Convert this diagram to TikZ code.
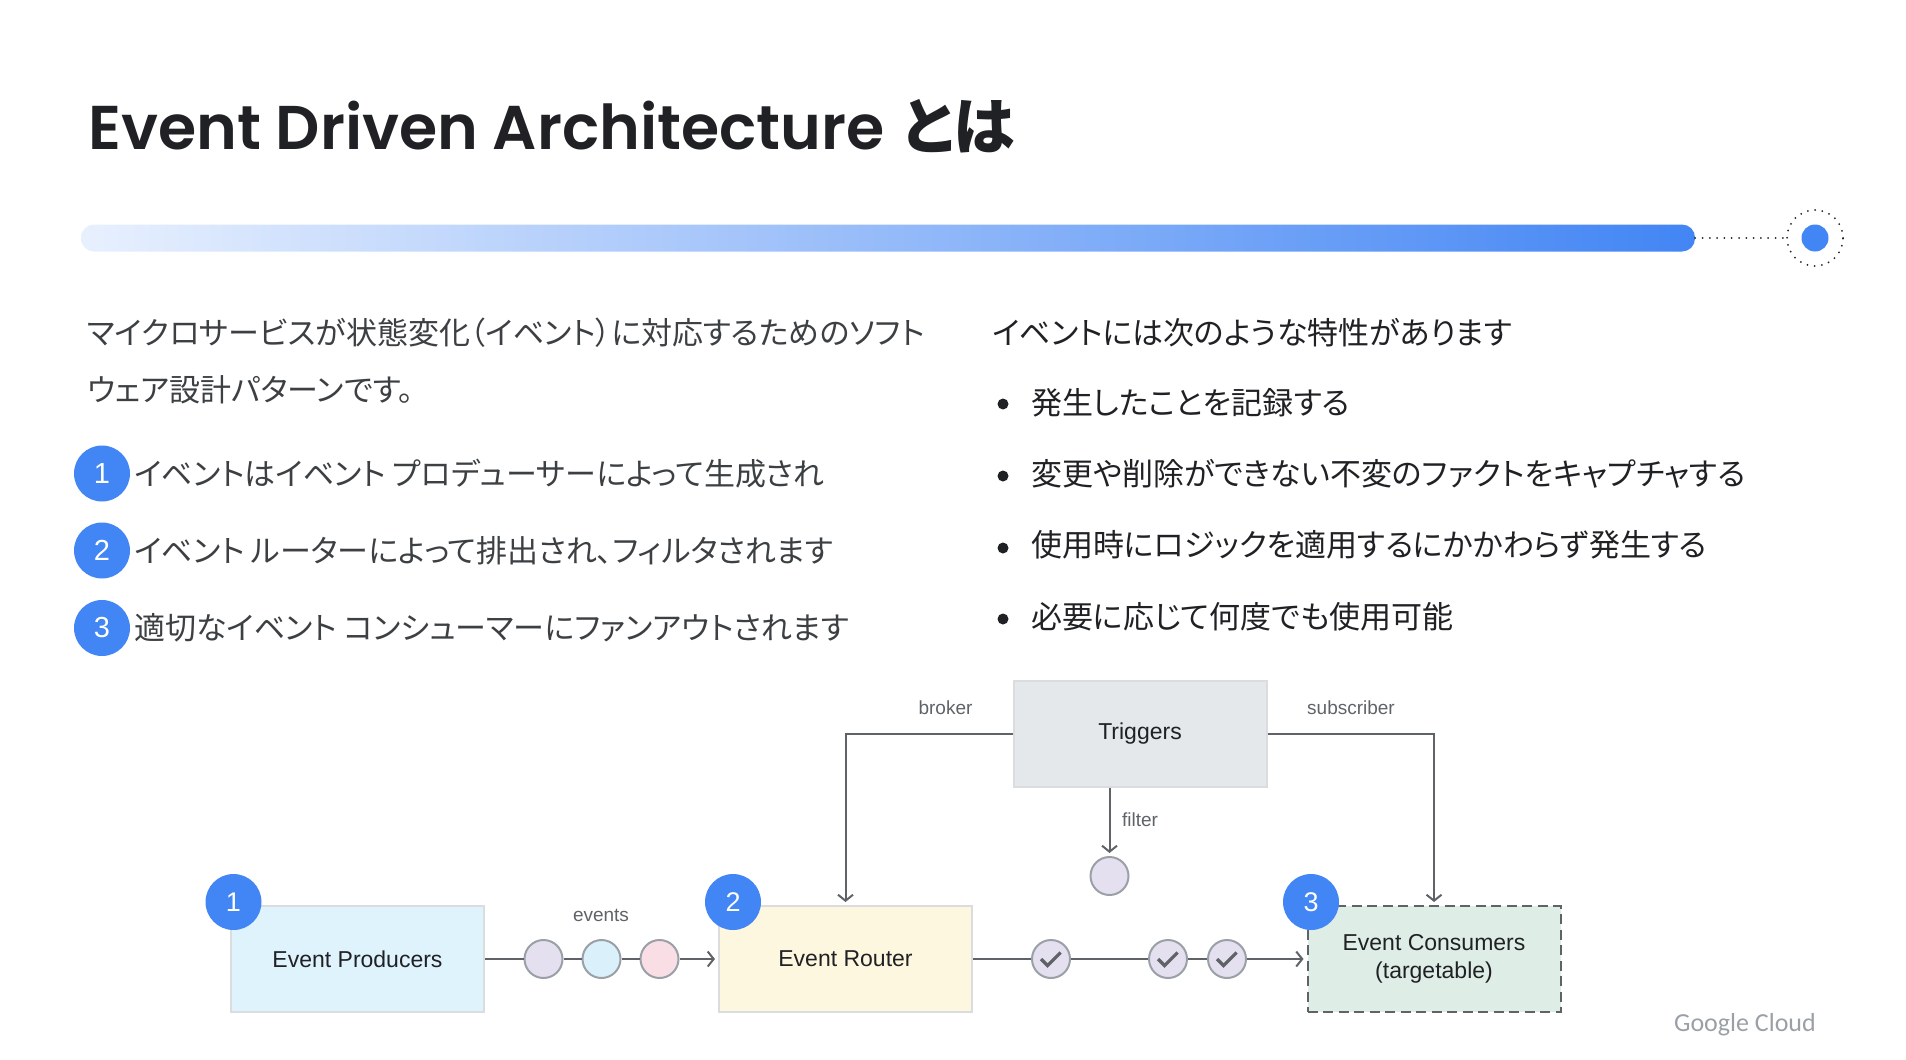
\documentclass[tikz,border=0pt]{standalone}
\usepackage{fontspec}
\usepackage{xcolor}
\usetikzlibrary{arrows.meta,positioning,calc}
\setmainfont{Liberation Sans}
\newfontfamily\jpfont[RawFeature=+palt]{Noto Sans CJK JP}
\newfontfamily\headfont[BoldFont={Poppins SemiBold}]{Poppins}
\newfontfamily\brandfont{Carlito}
\definecolor{deepink}{HTML}{202124}
\definecolor{bodyink}{HTML}{3C4043}
\definecolor{midgrey}{HTML}{5F6368}
\definecolor{softgrey}{HTML}{9AA0A6}
\definecolor{boxborder}{HTML}{DADCE0}
\definecolor{accent}{HTML}{4285F4}
\definecolor{barstart}{HTML}{E8F0FE}
\definecolor{producerbg}{HTML}{DFF3FD}
\definecolor{routerbg}{HTML}{FEF7E0}
\definecolor{triggerbg}{HTML}{E4E8EA}
\definecolor{consumerbg}{HTML}{DFEDE7}
\definecolor{dotlilac}{HTML}{E4E0F0}
\definecolor{dotcyan}{HTML}{DAF0FA}
\definecolor{dotpink}{HTML}{F9DEE6}

\begin{document}
\begin{tikzpicture}[
    x=1pt, y=-1pt,
    bodytext/.style={anchor=base west, inner sep=0pt, text=bodyink, font=\jpfont\fontsize{31}{31}\selectfont},
    traittext/.style={bodytext, text=deepink},
    numbadge/.style={circle, fill=accent, minimum size=56pt, inner sep=0pt, text=white, font=\fontsize{29}{29}\selectfont},
    smallbadge/.style={numbadge, font=\fontsize{27}{27}\selectfont},
    bulletdot/.style={circle, fill=deepink, minimum size=11pt, inner sep=0pt},
    box/.style={rectangle, line width=2pt, draw=boxborder, minimum width=253pt, minimum height=106pt, align=center, inner sep=0pt, text=deepink, font=\fontsize{23}{28}\selectfont},
    eventdot/.style={circle, line width=2pt, draw=softgrey, minimum size=38pt, inner sep=0pt},
    edgelabel/.style={inner sep=0pt, text=midgrey, font=\fontsize{19}{19}\selectfont},
    flowline/.style={line width=2pt, color=midgrey},
    flowarrow/.style={flowline, -{Straight Barb[length=6pt,width=15pt,line width=2pt]}, shorten >=3pt},
    dotrule/.style={line width=2pt, color=deepink, line cap=round, dash pattern=on 0pt off 7.3pt},
    checkmark/.style={line width=3.2pt, color=midgrey}
]
    \useasboundingbox (0,0) rectangle (1906,1060);

    % --- HEADING AND RULE ---
    \node[anchor=base west, inner sep=0pt, text=deepink, font=\fontsize{62}{62}\selectfont\bfseries] (heading) at (88,149)
        {{\headfont\fontsize{61.8}{62}\selectfont Event Driven Architecture} {\jpfont とは}};

    \node[rectangle, rounded corners=13pt, left color=barstart, right color=accent, minimum width=1614pt, minimum height=27pt, inner sep=0pt] (bar) at (888,238) {};
    \node[circle, fill=accent, minimum size=27pt, inner sep=0pt] (marker) at (1815,238) {};
    \node[circle, dotrule, draw, minimum size=56pt, inner sep=0pt] (ring) at (1815,238) {};
    \draw[dotrule] (bar.east) -- (ring.west);

    % --- LEFT COLUMN ---
    \node[bodytext] (introa) at (87,344) {マイクロサービスが状態変化（イベント）に対応するためのソフト};
    \node[bodytext] (introb) at (87,401) {ウェア設計パターンです。};

    \node[numbadge] (numa) at (102,473.5) {1};
    \node[numbadge] (numb) at (102,550.5) {2};
    \node[numbadge] (numc) at (102,628) {3};
    \node[bodytext] (stepa) at (134,485.5) {イベントはイベント プロデューサーによって生成され};
    \node[bodytext] (stepb) at (134,562.5) {イベント ルーターによって排出され、フィルタされます};
    \node[bodytext] (stepc) at (134,639.5) {適切なイベント コンシューマーにファンアウトされます};

    % --- RIGHT COLUMN ---
    \node[traittext] (traits) at (992,344) {イベントには次のような特性があります};

    \node[bulletdot] (dota) at (1003,404) {};
    \node[bulletdot] (dotb) at (1003,476) {};
    \node[bulletdot] (dotc) at (1003,548) {};
    \node[bulletdot] (dotd) at (1003,619) {};
    \node[traittext] (traita) at (1031,414) {発生したことを記録する};
    \node[traittext] (traitb) at (1031,485.5) {変更や削除ができない不変のファクトをキャプチャする};
    \node[traittext] (traitc) at (1031,556.5) {使用時にロジックを適用するにかかわらず発生する};
    \node[traittext] (traitd) at (1031,628) {必要に応じて何度でも使用可能};

    % --- MAIN BOXES ---
    \node[box, fill=producerbg] (producers) at (357.5,959) {Event Producers};
    \node[box, fill=routerbg] (router) at (845.5,959) {Event Router};
    \node[box, fill=triggerbg] (triggers) at (1140,733.5) {Triggers};
    \node[box, fill=consumerbg, draw=midgrey, dash pattern=on 10pt off 5.5pt] (consumers) at (1434,959) {Event Consumers\\(targetable)};

    % --- EVENTS ROW ---
    \node[eventdot, fill=dotlilac] (evone) at (543.5,959) {};
    \node[eventdot, fill=dotcyan] (evtwo) at (601.5,959) {};
    \node[eventdot, fill=dotpink] (evthree) at (659.5,959) {};
    \draw[flowline] (producers) -- (evone);
    \draw[flowline] (evone) -- (evtwo);
    \draw[flowline] (evtwo) -- (evthree);
    \draw[flowarrow] (evthree) -- (router);
    \node[edgelabel] (eventslabel) at (601,915) {events};

    % --- FILTERED ROW ---
    \node[eventdot, fill=dotlilac] (chkone) at (1051,959) {};
    \node[eventdot, fill=dotlilac] (chktwo) at (1168,959) {};
    \node[eventdot, fill=dotlilac] (chkthree) at (1227,959) {};
    \draw[flowline] (router) -- (chkone);
    \draw[flowline] (chkone) -- (chktwo);
    \draw[flowline] (chktwo) -- (chkthree);
    \draw[flowarrow] (chkthree) -- (consumers);
    \foreach \chk in {chkone,chktwo,chkthree}
        \draw[checkmark] ($(\chk)+(-10,0)$) -- ++(6.5,6.5) -- ++(13,-13);

    % --- TRIGGER LINKS ---
    \node[eventdot, fill=dotlilac] (filterdot) at (1109.5,876) {};
    \draw[flowarrow] (filterdot |- triggers.south) -- (filterdot);
    \draw[flowarrow] (triggers.west) -| (router.north);
    \draw[flowarrow] (triggers.east) -| (consumers.north);
    \node[edgelabel] (brokerlabel) at (945.5,708) {broker};
    \node[edgelabel] (subscriberlabel) at (1351,708) {subscriber};
    \node[edgelabel] (filterlabel) at (1140,820) {filter};

    % --- NUMBER BADGES ON BOXES ---
    \node[smallbadge] (badgea) at (233.5,902) {1};
    \node[smallbadge] (badgeb) at (733,902) {2};
    \node[smallbadge] (badgec) at (1311,902) {3};

    \node[anchor=base east, inner sep=0pt, text=softgrey, font=\brandfont\fontsize{26}{26}\selectfont] (brand) at (1816,1031) {Google Cloud};
\end{tikzpicture}
\end{document}
